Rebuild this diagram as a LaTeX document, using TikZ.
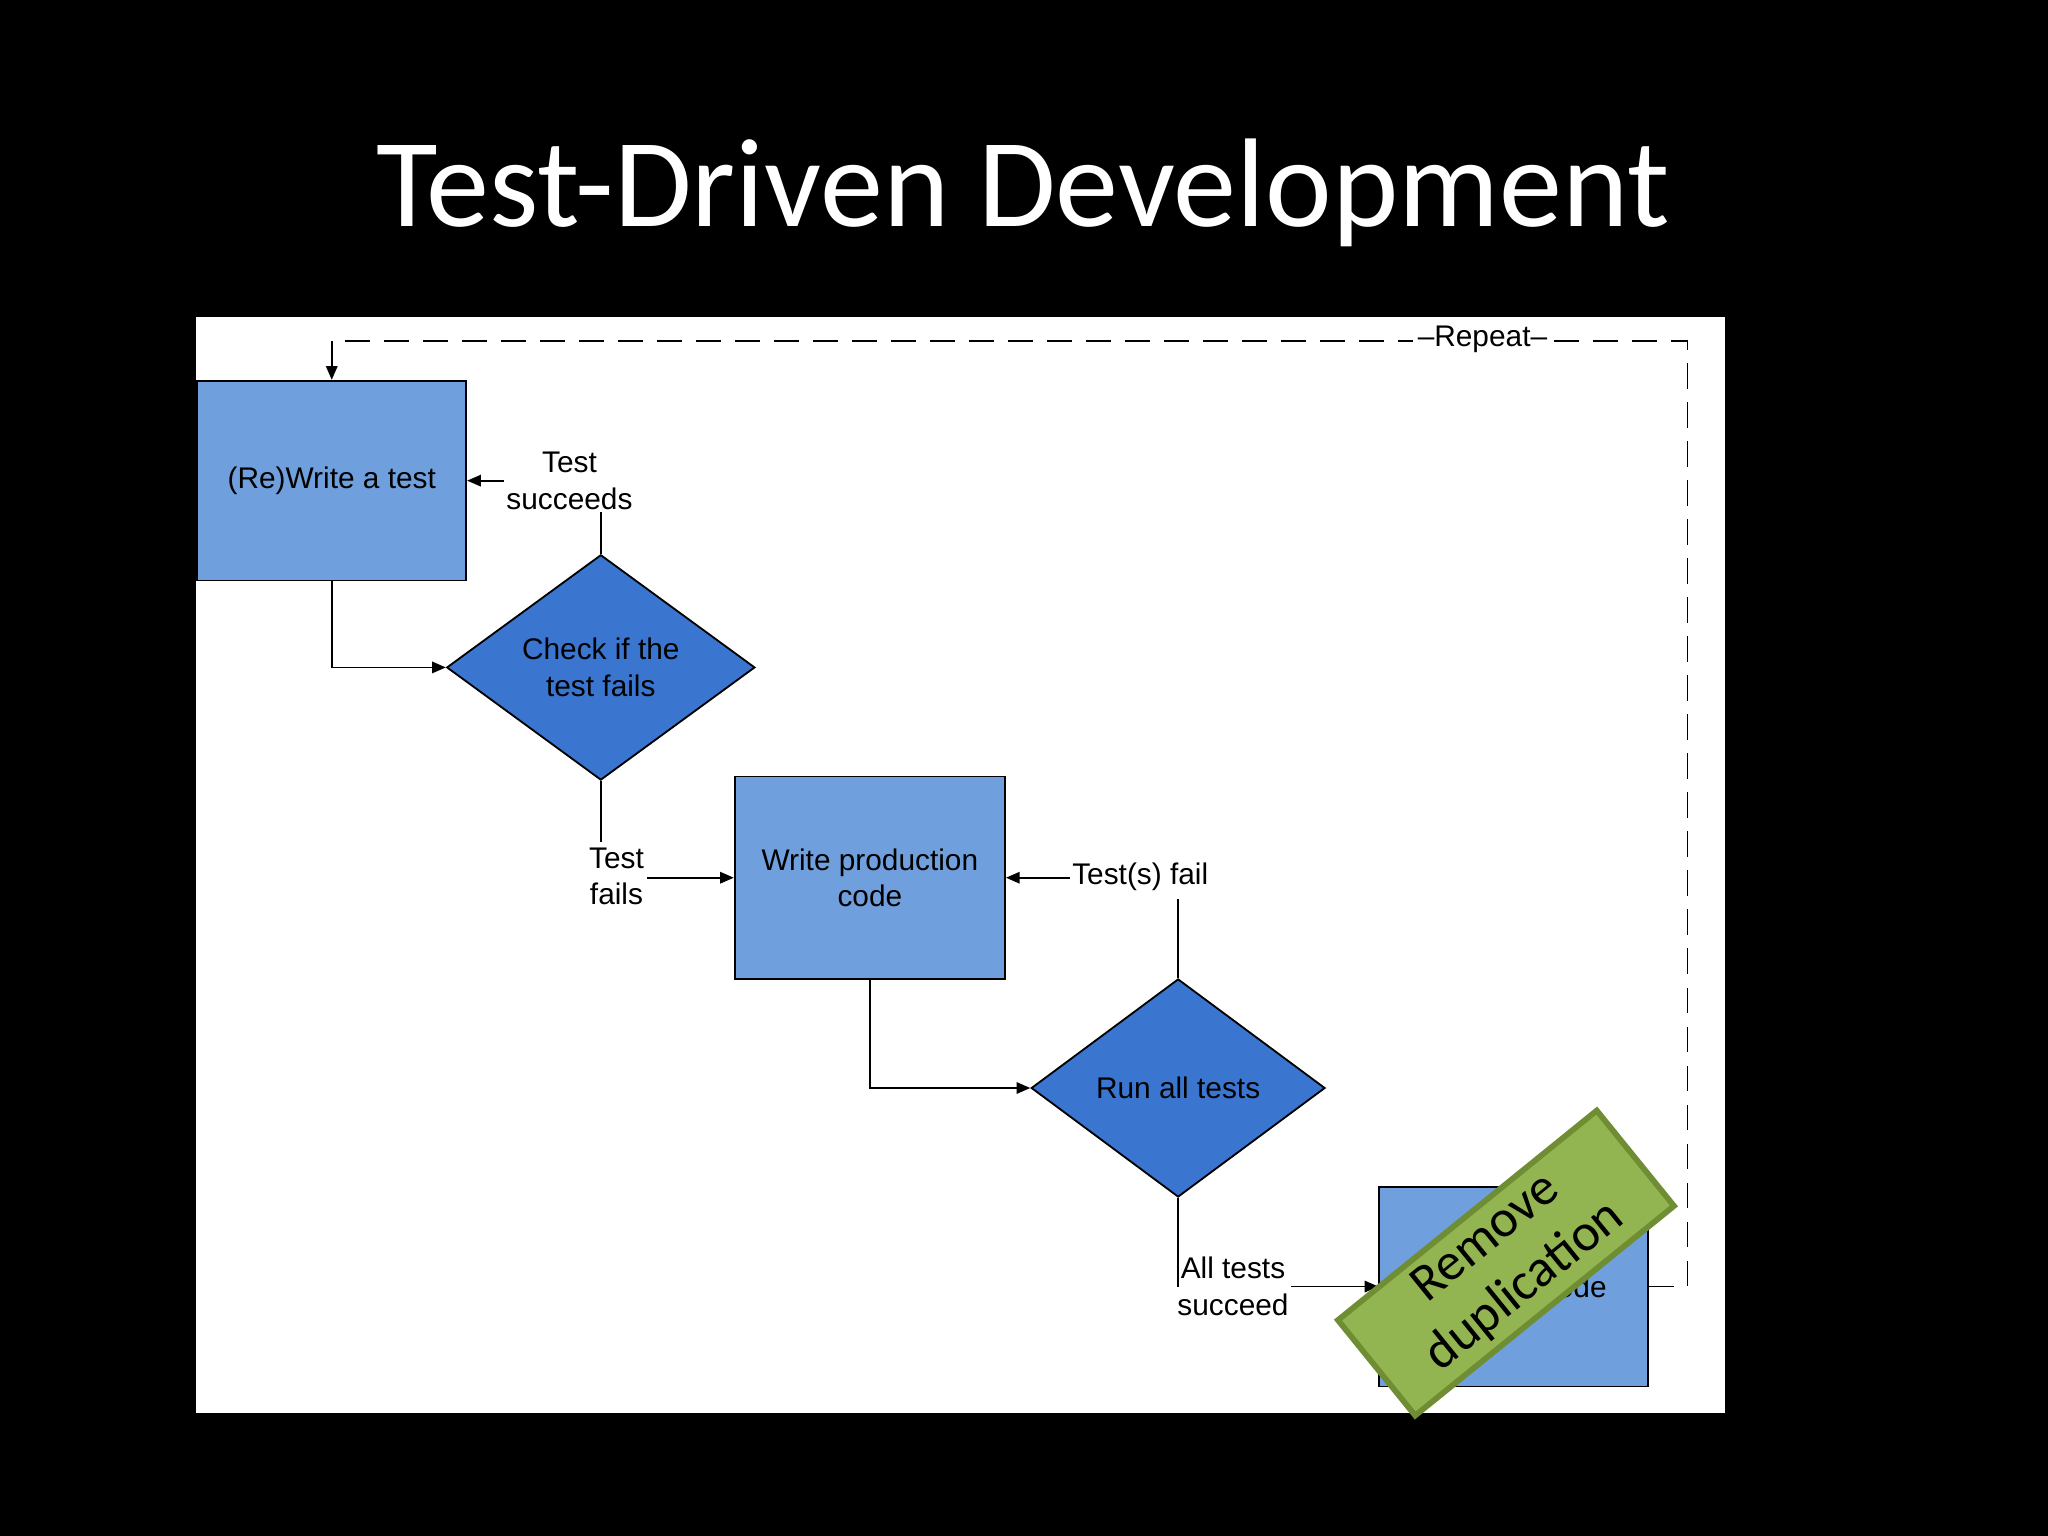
\documentclass[tikz,border=0pt]{standalone}
\usepackage{fontspec}
\setmainfont{Liberation Sans}
\newfontfamily\calib{Carlito}
\usetikzlibrary{shapes.geometric,arrows.meta}
\definecolor{lbox}{HTML}{6F9FDC}
\definecolor{dbox}{HTML}{3A76D0}
\definecolor{stick}{HTML}{93B551}
\definecolor{stickb}{HTML}{6F8E33}
\tikzset{
 lbl/.style={font=\fontsize{13}{16}\selectfont, align=center, inner sep=1pt},
 sbox/.style={draw=black, line width=0.8pt, fill=lbox, minimum width=4.12cm, minimum height=3.06cm, lbl},
 dia/.style={diamond, draw=black, line width=0.8pt, fill=dbox, minimum width=4.72cm, minimum height=3.4cm, inner sep=0pt, lbl},
 con/.style={line width=0.8pt, -{Triangle[length=6pt,width=5pt]}},
 pl/.style={line width=0.8pt},
}
\begin{document}
\begin{tikzpicture}[x=0.02cm,y=-0.02cm]
\fill[black] (0,0) rectangle (1568,1176);
\useasboundingbox (0,0) rectangle (1568,1176);
\node[text=white, font=\calib\fontsize{55}{56}\selectfont] (title) at (783,148) {Test-Driven Development};
\fill[white] (150,243) rectangle (1321,1082);
\node[sbox] (b1) at (254,368) {(Re)Write a test};
\node[dia] (d1) at (460,511) {Check if the\\test fails};
\node[sbox, minimum width=4.14cm, minimum height=3.1cm] (b2) at (666,672) {Write production\\code};
\node[dia, minimum width=4.5cm, minimum height=3.34cm] (d2) at (902,833) {Run all tests};
\node[sbox, minimum width=4.12cm] (b3) at (1159,985) {Refactor code};
% labels
\node[lbl] (l1) at (436,368) {Test\\succeeds};
\node[lbl] (l2) at (472,671) {Test\\fails};
\node[lbl] (l3) at (873,671) {Test(s) fail};
\node[lbl] (l4) at (944,985) {All tests\\succeed};
\coordinate (c1) at (b1.south |- d1.west);
\coordinate (c2) at (b2.south |- d2.west);
% connectors
\draw[con] (b1.south) -- (c1) -- (d1.west);
\draw[pl] (d1.north) -- (l1.south -| d1.north);
\draw[con] (l1.west |- b1.east) -- (b1.east);
\draw[pl] (d1.south) -- (460,645);
\draw[con] (l2.east |- b2.west) -- (b2.west);
\draw[pl] (d2.north) -- (902,688);
\draw[con] (l3.west |- b2.east) -- (b2.east);
\draw[con] (b2.south) -- (c2) -- (d2.west);
\draw[pl] (d2.south) -- (902,985);
\draw[con] (l4.east |- b3.west) -- (b3.west);
% repeat
\coordinate (r1) at (1292,985);
\coordinate (r2) at (1292,261);
\coordinate (r3) at (b1.north |- r2);
\draw[pl, dash pattern=on 11pt off 6pt] (b3.east) -- (r1) -- (r2) -- (r3);
\draw[con, dash pattern=on 11pt off 6pt] (r3) -- (b1.north);
\node[lbl, fill=white, inner sep=2pt] (rep) at (1135,260) {--Repeat--};
% sticker
\node[draw=stickb, line width=2.5pt, fill=stick, rotate=39, minimum width=5.1cm, minimum height=1.88cm, align=center, font=\calib\fontsize{23}{27}\selectfont] (st) at (1153,967) {Remove\\duplication};
\end{tikzpicture}
\end{document}
